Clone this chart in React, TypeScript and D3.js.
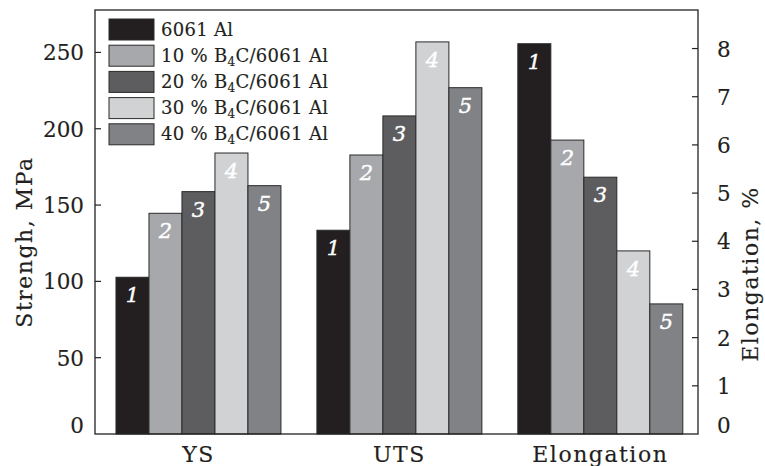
import React from "react";
import * as d3 from "d3";

const categories = ["YS", "UTS", "Elongation"];
const seriesLabels = ["6061 Al", "10 % B4C/6061 Al", "20 % B4C/6061 Al", "30 % B4C/6061 Al", "40 % B4C/6061 Al"];
const seriesNums = ["1", "2", "3", "4", "5"];
const ysValues = [102.7, 144.6, 158.8, 184.1, 162.7];
const utsValues = [133.5, 182.8, 208.4, 256.9, 226.9];
const elongValues = [8.1, 6.1, 5.33, 3.8, 2.7];
const leftTicks = [0, 50, 100, 150, 200, 250];
const rightTicks = [0, 1, 2, 3, 4, 5, 6, 7, 8];
const colors = ["#231f20", "#a7a8ab", "#5d5d5f", "#d1d2d4", "#818285"];

const W = 765, H = 466;
const M = { left: 95, right: 698, top: 10, bottom: 434 };
const FONT = "'DejaVu Serif', serif";
const INK = "#231f20";

export default function App() {
  const x0 = d3.scaleBand<string>().domain(categories).range([M.left, M.right]).paddingInner(0.179).paddingOuter(0.09).align(0.58);
  const x1 = d3.scaleBand<string>().domain(seriesNums).range([0, x0.bandwidth()]).padding(0);
  const yL = d3.scaleLinear().domain([0, 277.8]).range([M.bottom, M.top]);
  const yR = d3.scaleLinear().domain([0, 8.8]).range([M.bottom, M.top]);

  const groups = [
    { cat: "YS", vals: ysValues, y: yL },
    { cat: "UTS", vals: utsValues, y: yL },
    { cat: "Elongation", vals: elongValues, y: yR },
  ];

  const renderLabel = (s: string) => {
    const m = s.match(/^(.*B)4(C.*)$/);
    if (!m) return s;
    return (
      <>
        {m[1]}
        <tspan dy={4} fontSize={12}>4</tspan>
        <tspan dy={-4}>{m[2]}</tspan>
      </>
    );
  };

  const txt = { fill: INK, stroke: INK, strokeWidth: 0.15 };

  return (
    <svg width={W} height={H} style={{ position: "absolute", left: 0, top: 0, background: "#fff" }} fontFamily={FONT}>
      {groups.map((g) => (
        <g key={g.cat}>
          {g.vals.map((v, i) => {
            const bx = (x0(g.cat) ?? 0) + (x1(seriesNums[i]) ?? 0);
            const by = g.y(v);
            return (
              <g key={i}>
                <rect x={bx} y={by} width={x1.bandwidth()} height={M.bottom - by} fill={colors[i]} stroke="#2a2a2a" strokeWidth={1} />
                <text x={bx + x1.bandwidth() / 2} y={by + 25} textAnchor="middle" fill="#fff" stroke="#fff" strokeWidth={0.4} fontStyle="italic" fontSize={21}>
                  {seriesNums[i]}
                </text>
              </g>
            );
          })}
        </g>
      ))}
      <rect x={M.left} y={M.top} width={M.right - M.left} height={M.bottom - M.top} fill="none" stroke="#222" strokeWidth={1.3} />
      {leftTicks.map((t) => (
        <g key={"l" + t}>
          {t > 0 && <line x1={M.left} x2={M.left + 6} y1={yL(t)} y2={yL(t)} stroke="#222" strokeWidth={1.2} />}
          <text x={84} y={t === 0 ? yL(t) - 1 : yL(t) + 8} textAnchor="end" fontSize={21.5} {...txt}>{t}</text>
        </g>
      ))}
      {rightTicks.map((t) => (
        <g key={"r" + t}>
          {t > 0 && <line x1={M.right - 6} x2={M.right} y1={yR(t)} y2={yR(t)} stroke="#222" strokeWidth={1.2} />}
          <text x={717} y={t === 0 ? yR(t) - 1 : yR(t) + 8} textAnchor="start" fontSize={21.5} {...txt}>{t}</text>
        </g>
      ))}
      {categories.map((c) => (
        <text key={c} x={(x0(c) ?? 0) + x0.bandwidth() / 2} y={462} textAnchor="middle" fontSize={22} letterSpacing={1.5} {...txt}>{c}</text>
      ))}
      <text transform={`translate(32,242) rotate(-90)`} textAnchor="middle" fontSize={22} letterSpacing={1.5} {...txt}>Strengh, MPa</text>
      <text transform={`translate(758,274) rotate(-90)`} textAnchor="middle" fontSize={22} letterSpacing={1.5} {...txt}>Elongation, %</text>
      {seriesLabels.map((s, i) => {
        const ly = 19 + i * 26.2;
        return (
          <g key={s}>
            <rect x={109} y={ly} width={45} height={21} fill={colors[i]} stroke="#2a2a2a" strokeWidth={1} />
            <text x={161} y={ly + 16.5} fontSize={18} letterSpacing={0.3} {...txt}>{renderLabel(s)}</text>
          </g>
        );
      })}
    </svg>
  );
}
